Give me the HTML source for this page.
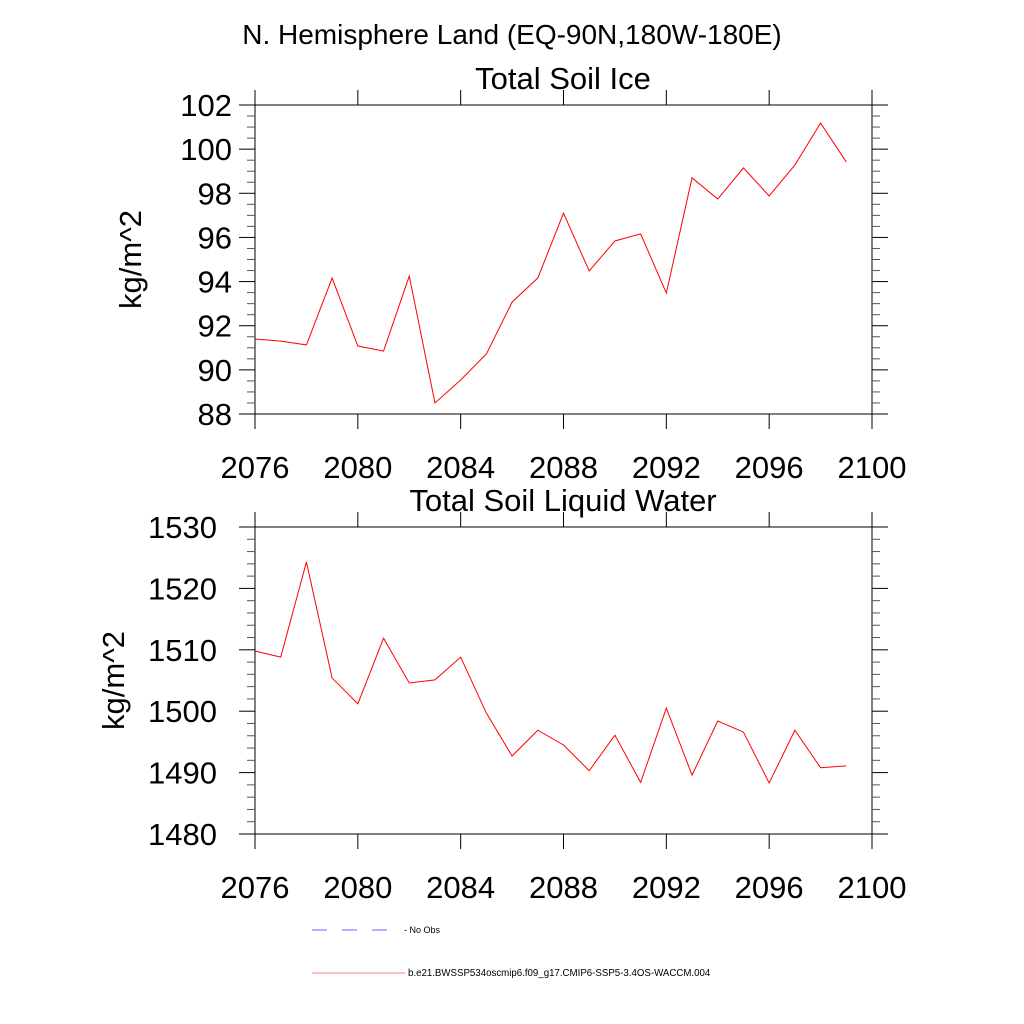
<!DOCTYPE html>
<html><head><meta charset="utf-8"><style>body{margin:0;background:#fff}svg{display:block}</style></head>
<body>
<svg id="chart" width="1024" height="1024" xmlns="http://www.w3.org/2000/svg" font-family="Liberation Sans, sans-serif">
<text x="512" y="44" font-size="28" text-anchor="middle">N. Hemisphere Land (EQ-90N,180W-180E)</text>
<g id="p1"></g>
<g id="p2"></g>
<g>
<line x1="312" y1="930" x2="402" y2="930" stroke="#6666ff" stroke-dasharray="15,15"/>
<text x="404" y="933" font-size="9">- No Obs</text>
<line x1="312" y1="973" x2="405" y2="973" stroke="#f08080"/>
<text x="408" y="976" font-size="9.7">b.e21.BWSSP534oscmip6.f09_g17.CMIP6-SSP5-3.4OS-WACCM.004</text>
</g>
</svg>
<script>
const years=[2076,2077,2078,2079,2080,2081,2082,2083,2084,2085,2086,2087,2088,2089,2090,2091,2092,2093,2094,2095,2096,2097,2098,2099];
const iceValues=[91.4,91.3,91.13,94.16,91.08,90.85,94.25,88.5,89.54,90.72,93.07,94.16,97.1,94.48,95.84,96.16,93.48,98.7,97.74,99.15,97.88,99.28,101.18,99.42];
const liquidValues=[1509.8,1508.8,1524.3,1505.4,1501.2,1511.9,1504.6,1505.1,1508.8,1499.7,1492.7,1496.9,1494.5,1490.3,1496.1,1488.4,1500.5,1489.6,1498.4,1496.6,1488.3,1496.9,1490.8,1491.1];
const xTicks=[2076,2080,2084,2088,2092,2096,2100];
const iceTicks=[88,90,92,94,96,98,100,102];
const liquidTicks=[1480,1490,1500,1510,1520,1530];
const NS='http://www.w3.org/2000/svg';
function mk(p,t,a){const e=document.createElementNS(NS,t);for(const k in a)e.setAttribute(k,a[k]);p.appendChild(e);return e;}
function panel(g,title,vals,ticks,minorStep,top,bot,labRight,titleX){
  const L=255,R=872,x0=2076,x1=2100,y0=ticks[0],y1=ticks[ticks.length-1];
  const X=v=>L+(v-x0)/(x1-x0)*(R-L), Y=v=>bot-(v-y0)/(y1-y0)*(bot-top);
  const t=mk(g,'text',{x:563,y:top-16,'font-size':31,'text-anchor':'middle'});t.textContent=title;
  
  
  const fr=mk(g,'rect',{x:L,y:top,width:R-L,height:bot-top,fill:'none',stroke:'#000','stroke-width':1});
  
  
  xTicks.forEach(v=>{const x=X(v);
    mk(g,'line',{x1:x,x2:x,y1:bot,y2:bot+15,stroke:'#000'});
    mk(g,'line',{x1:x,x2:x,y1:top,y2:top-15,stroke:'#000'});
    const e=mk(g,'text',{x:x,y:bot+64,'font-size':31,'text-anchor':'middle'});e.textContent=v;
    
    });
  for(let v=y0;v<=y1+1e-9;v+=minorStep){const maj=ticks.some(k=>Math.abs(k-v)<1e-6),len=maj?16:8,y=Y(v);
    mk(g,'line',{x1:L,x2:L-len,y1:y,y2:y,stroke:maj?'#000':'#555'});
    mk(g,'line',{x1:R,x2:R+len,y1:y,y2:y,stroke:maj?'#000':'#555'});}
  ticks.forEach(v=>{const e=mk(g,'text',{x:labRight,y:Y(v)+11,'font-size':31,'text-anchor':'end'});e.textContent=v;
    
    });
  const yt=mk(g,'text',{x:0,y:0,'font-size':31,'text-anchor':'middle',transform:`translate(${titleX+11},${(top+bot)/2}) rotate(-90)`});yt.textContent='kg/m^2';
  
  
  const pl=mk(g,'polyline',{points:vals.map((v,i)=>X(years[i])+','+Y(v)).join(' '),fill:'none',stroke:'#ff0000','stroke-width':1});
  
  
}
panel(document.getElementById('p1'),'Total Soil Ice',iceValues,iceTicks,0.5,105,414,232,130);
panel(document.getElementById('p2'),'Total Soil Liquid Water',liquidValues,liquidTicks,2,527,834,217,113);
</script>
</body></html>
